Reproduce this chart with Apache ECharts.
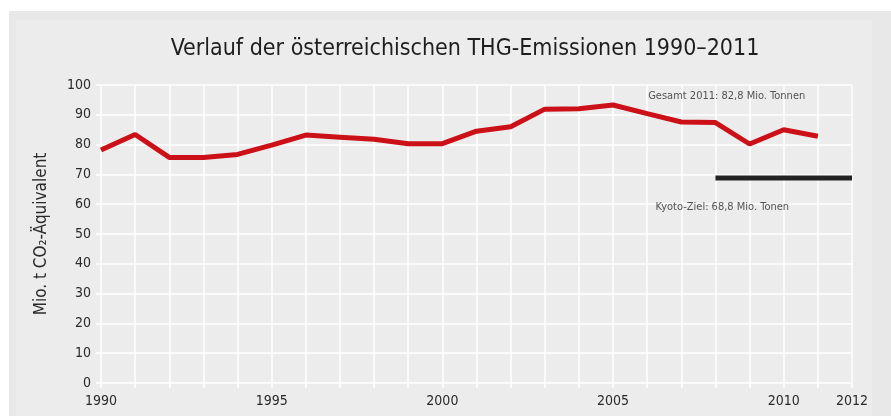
<!DOCTYPE html>
<html><head><meta charset="utf-8">
<script src="https://cdn.jsdelivr.net/npm/echarts@6/dist/echarts.min.js"></script>
<style>html,body{margin:0;padding:0;background:#fff}#c{width:891px;height:416px}</style>
</head><body><div id="c"></div>
<script>
var years = [1990,1991,1992,1993,1994,1995,1996,1997,1998,1999,2000,2001,2002,2003,2004,2005,2006,2007,2008,2009,2010,2011];
var emissions = [78.2,83.4,75.7,75.7,76.7,79.8,83.2,82.5,81.8,80.3,80.3,84.5,86.0,91.9,92.0,93.3,90.4,87.6,87.4,80.2,85.0,82.8];
var kyotoYears = [2008,2012];
var kyotoValue = 68.8;
var xLabelYears = [1990,1995,2000,2005,2010,2012];
var titleText = 'Verlauf der österreichischen THG-Emissionen 1990–2011';
var yName = 'Mio. t CO₂-Äquivalent';
var noteTotal = 'Gesamt 2011: 82,8 Mio. Tonnen';
var noteKyoto = 'Kyoto-Ziel: 68,8 Mio. Tonen';

var FONT = '"DejaVu Sans Condensed",sans-serif';
var chart = echarts.init(document.getElementById('c'));
chart.setOption({
  animation: false,
  backgroundColor: '#ffffff',
  graphic: [
    {type:'rect', shape:{x:9,y:11,width:882,height:405}, style:{fill:'#e8e8e8'}, z:-10, silent:true},
    {type:'rect', shape:{x:16,y:20,width:856,height:396}, style:{fill:'#ececec'}, z:-9, silent:true}
  ],
  title: {
    text: titleText, left: 460, top: 33, textAlign: 'center',
    textStyle: {fontFamily: FONT, fontSize: 23, fontWeight: 'normal', color: '#1e1e1e'}
  },
  grid: {left: 101, right: 39, top: 85, bottom: 33},
  xAxis: {
    type: 'value', min: 1990, max: 2012, interval: 1,
    axisLine: {show: false},
    axisTick: {show: true, length: 5, lineStyle: {color: '#ffffff', width: 1.5}},
    splitLine: {show: true, lineStyle: {color: '#ffffff', width: 1.5}},
    axisLabel: {
      fontFamily: FONT, fontSize: 14, color: '#2a2a2a', margin: 11,
      formatter: function (v) { return xLabelYears.indexOf(v) >= 0 ? String(v) : ''; }
    }
  },
  yAxis: {
    type: 'value', min: 0, max: 100, interval: 10,
    name: yName, nameLocation: 'middle', nameGap: 51,
    nameTextStyle: {fontFamily: FONT, fontSize: 17, color: '#2a2a2a'},
    axisLine: {show: false},
    axisTick: {show: true, length: 5, lineStyle: {color: '#ffffff', width: 1.5}},
    splitLine: {show: true, lineStyle: {color: '#ffffff', width: 1.5}},
    axisLabel: {fontFamily: FONT, fontSize: 14, color: '#2a2a2a', margin: 10}
  },
  series: [
    {
      type: 'line', data: years.map(function (y, i) { return [y, emissions[i]]; }),
      symbol: 'none', lineStyle: {color: '#cc1017', width: 5}, z: 5
    },
    {
      type: 'line', data: kyotoYears.map(function (y) { return [y, kyotoValue]; }),
      symbol: 'none', lineStyle: {color: '#222222', width: 5}, z: 4
    },
    {
      type: 'scatter', symbolSize: 0, silent: true,
      data: [[2008.33, 96.3, noteTotal], [2008.2, 59.0, noteKyoto]],
      label: {show: true, position: 'inside', fontFamily: FONT, fontSize: 11, color: '#2a2a2a',
        formatter: function (p) { return p.data[2]; }}
    }
  ]
});
</script></body></html>
